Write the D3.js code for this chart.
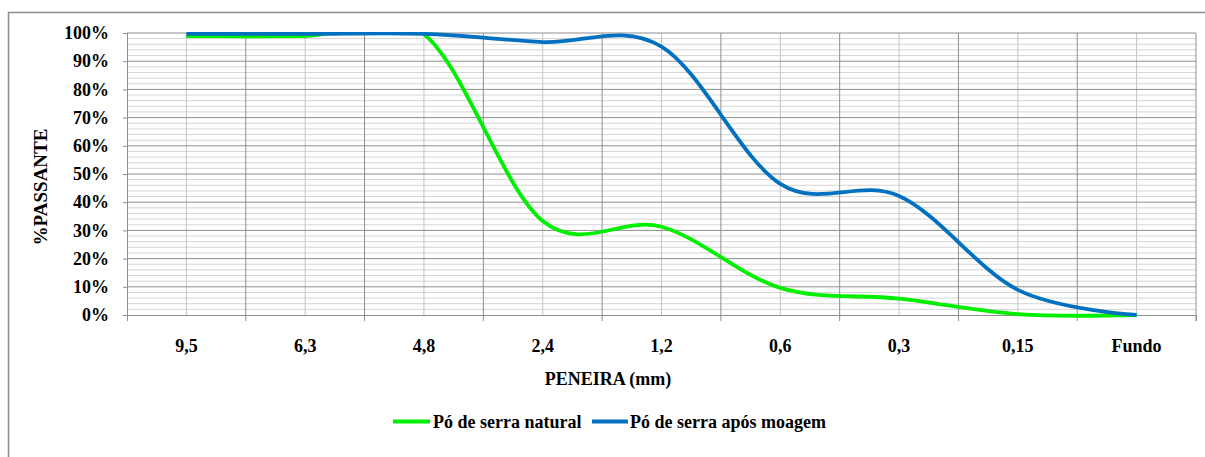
<!DOCTYPE html>
<html lang="pt">
<head>
    <meta charset="UTF-8">
    <title>Granulometria - Pó de serra</title>
    <script src="https://d3js.org/d3.v7.min.js"></script>
    <style>
        body { margin: 0; background: #fff; }
    </style>
</head>
<body>
    <div id="chart"></div>

    <script>
        // Peneiras (mm)
        const sieves = ["9,5", "6,3", "4,8", "2,4", "1,2", "0,6", "0,3", "0,15", "Fundo"];
        // % passante
        const natural = [98.9, 98.9, 99.6, 33.3, 31.3, 9.6, 5.8, 0.3, 0];
        const moagem = [99.7, 99.7, 99.7, 96.8, 95.2, 46.5, 42.2, 8.9, 0];
        const yTicks = [0, 10, 20, 30, 40, 50, 60, 70, 80, 90, 100];
        const seriesNames = ["Pó de serra natural", "Pó de serra após moagem"];
        const seriesColors = ["#00ee00", "#0070c0"];

        const FONT = "Liberation Serif";
        const W = 1205, H = 457;
        const plot = { left: 127, right: 1196, top: 33, bottom: 315 };

        const svg = d3.select("#chart").append("svg")
            .attr("width", W)
            .attr("height", H);

        // chart area border
        svg.append("rect")
            .attr("x", 8.5).attr("y", 12.5)
            .attr("width", W).attr("height", H)
            .attr("fill", "none")
            .attr("stroke", "#8c8c8c")
            .attr("stroke-width", 1.5);

        const x = d3.scaleBand().domain(sieves).range([plot.left, plot.right]).padding(0);
        const y = d3.scaleLinear().domain([0, 100]).range([plot.bottom, plot.top]);
        const cx = d => x(d) + x.bandwidth() / 2;

        // minor horizontal gridlines (2%)
        svg.append("g").selectAll("line")
            .data(d3.range(2, 100, 2).filter(v => v % 10 !== 0))
            .enter().append("line")
            .attr("x1", plot.left).attr("x2", plot.right)
            .attr("y1", d => y(d)).attr("y2", d => y(d))
            .attr("stroke", "#d4d4d4")
            .attr("stroke-width", 1);

        // vertical gridlines at band centres (light) and boundaries (dark)
        svg.append("g").selectAll("line")
            .data(sieves)
            .enter().append("line")
            .attr("x1", d => cx(d)).attr("x2", d => cx(d))
            .attr("y1", plot.top).attr("y2", plot.bottom)
            .attr("stroke", "#c4c4c4");

        svg.append("g").selectAll("line")
            .data(sieves.slice(1).concat(["end"]))
            .enter().append("line")
            .attr("x1", d => d === "end" ? plot.right : x(d))
            .attr("x2", d => d === "end" ? plot.right : x(d))
            .attr("y1", plot.top).attr("y2", plot.bottom + 6)
            .attr("stroke", "#8e8e8e");

        // major horizontal gridlines (10%)
        svg.append("g").selectAll("line")
            .data(yTicks.slice(1))
            .enter().append("line")
            .attr("x1", plot.left).attr("x2", plot.right)
            .attr("y1", d => y(d)).attr("y2", d => y(d))
            .attr("stroke", "#8e8e8e");

        // y axis
        const yAxis = svg.append("g")
            .attr("transform", `translate(${plot.left},0)`)
            .call(d3.axisLeft(y).tickValues(yTicks).tickFormat(d => d + "%").tickSize(4).tickPadding(14))
            .attr("font-family", FONT)
            .attr("font-size", 18)
            .attr("font-weight", "bold");
        yAxis.select(".domain").attr("stroke", "#8e8e8e");
        yAxis.selectAll(".tick line").attr("stroke", "#8e8e8e");
        yAxis.selectAll("text").attr("fill", "#000");

        // x axis
        const xAxis = svg.append("g")
            .attr("transform", `translate(0,${plot.bottom})`)
            .call(d3.axisBottom(x).tickSize(0).tickSizeOuter(6))
            .attr("font-family", FONT)
            .attr("font-size", 18)
            .attr("font-weight", "bold");
        xAxis.select(".domain").attr("stroke", "#8e8e8e");
        xAxis.selectAll("text")
            .attr("dy", null)
            .attr("y", 37)
            .attr("fill", "#000");

        // axis titles
        svg.append("text")
            .attr("transform", "translate(47,187) rotate(-90)")
            .attr("text-anchor", "middle")
            .attr("font-family", FONT)
            .attr("font-weight", "bold")
            .attr("font-size", 19)
            .text("%PASSANTE");

        svg.append("text")
            .attr("x", 608).attr("y", 385)
            .attr("text-anchor", "middle")
            .attr("font-family", FONT)
            .attr("font-weight", "bold")
            .attr("font-size", 18)
            .text("PENEIRA (mm)");

        // curves
        svg.append("clipPath").attr("id", "plotClip")
            .append("rect")
            .attr("x", plot.left - 10).attr("y", plot.top - 1)
            .attr("width", plot.right - plot.left + 20)
            .attr("height", plot.bottom - plot.top + 10);

        const line = d3.line()
            .x((d, i) => cx(sieves[i]))
            .y(d => y(d))
            .curve(d3.curveCatmullRom.alpha(0));

        [natural, moagem].forEach((vals, i) => {
            svg.append("path")
                .datum(vals)
                .attr("clip-path", "url(#plotClip)")
                .attr("fill", "none")
                .attr("stroke", seriesColors[i])
                .attr("stroke-width", 3.8)
                .attr("stroke-linejoin", "round")
                .attr("d", line);
        });

        // legend
        const legendItems = [
            { x1: 393, x2: 430, tx: 433 },
            { x1: 592, x2: 628, tx: 630 }
        ];
        legendItems.forEach((it, i) => {
            svg.append("line")
                .attr("x1", it.x1).attr("x2", it.x2)
                .attr("y1", 421.5).attr("y2", 421.5)
                .attr("stroke", seriesColors[i])
                .attr("stroke-width", 4);
            svg.append("text")
                .attr("x", it.tx).attr("y", 428)
                .attr("font-family", FONT)
                .attr("font-weight", "bold")
                .attr("font-size", 18)
                .text(seriesNames[i]);
        });
    </script>
</body>
</html>
